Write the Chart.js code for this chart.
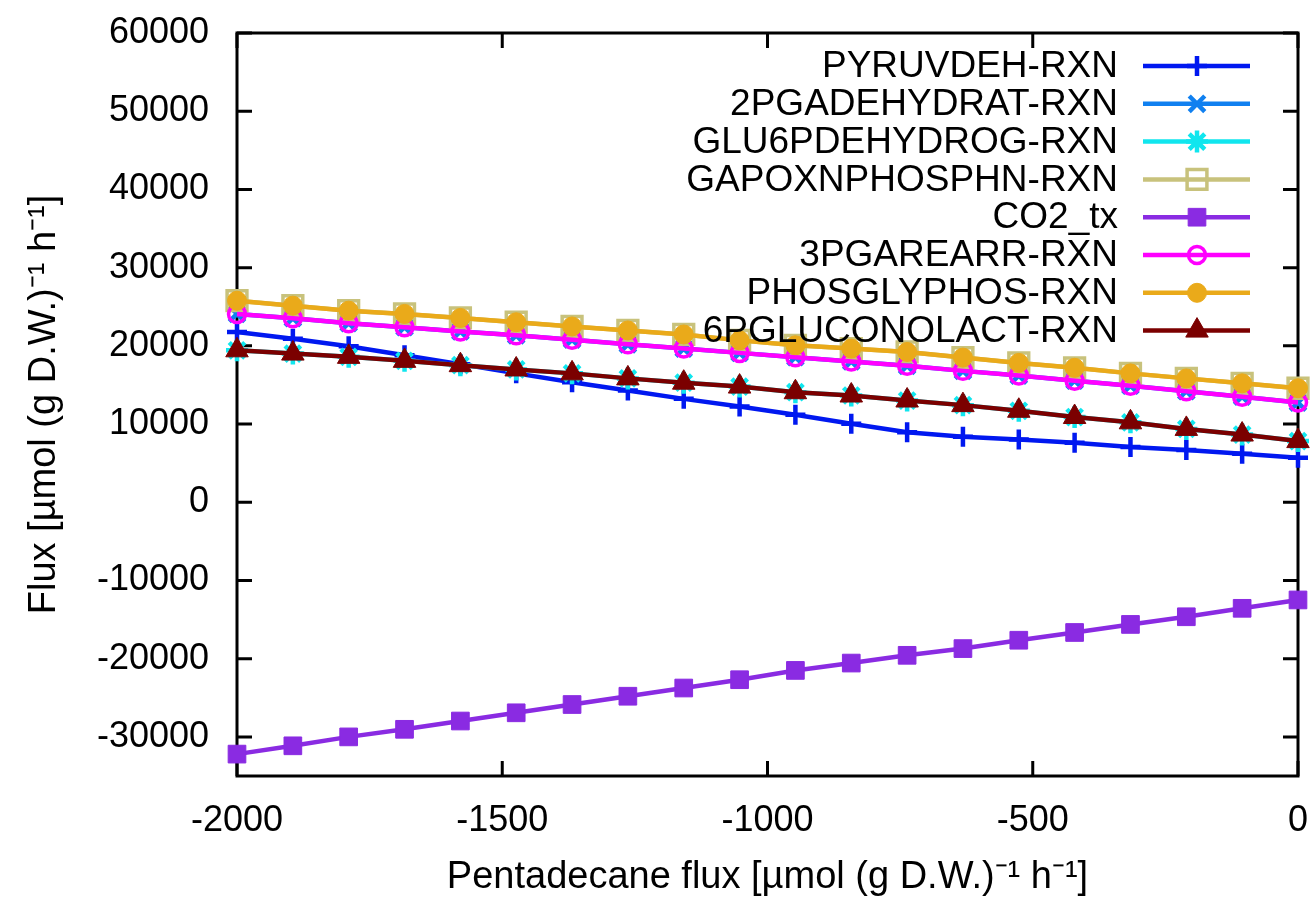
<!DOCTYPE html>
<html>
<head>
<meta charset="utf-8">
<title>Flux vs pentadecane flux</title>
<script src="https://cdn.jsdelivr.net/npm/chart.js@4.4.1/dist/chart.umd.min.js"></script>
<style>
  html, body { margin: 0; padding: 0; background: #fff; }
</style>
</head>
<body>
<canvas id="chart" width="1315" height="900"></canvas>
<script>
// x: pentadecane flux, 20 steps from -2000 to 0
const pentadecane = [-2000, -1894.7, -1789.5, -1684.2, -1578.9, -1473.7, -1368.4, -1263.2, -1157.9, -1052.6,
  -947.4, -842.1, -736.8, -631.6, -526.3, -421.1, -315.8, -210.5, -105.3, 0];

const pyruvdeh = [21760, 20910, 19940, 18800, 17660, 16480, 15340, 14280, 13220, 12250,
  11200, 10050, 8950, 8370, 8030, 7600, 7060, 6680, 6210, 5700];
const pgaDehydrat = [24080, 23530, 22900, 22390, 21840, 21340, 20790, 20190, 19650, 19100,
  18550, 18000, 17450, 16800, 16200, 15550, 14900, 14200, 13500, 12750];
const glu6pDehydrog = [19430, 19010, 18590, 18080, 17530, 16980, 16480, 15840, 15290, 14790,
  14070, 13650, 13010, 12420, 11700, 10900, 10220, 9380, 8660, 7820];
const gapoxnPhosphn = [25770, 25140, 24500, 24080, 23570, 23020, 22480, 21970, 21460, 20700,
  20070, 19650, 19220, 18500, 17820, 17190, 16480, 15840, 15210, 14580];
const co2Tx = [-32200, -31140, -30000, -29030, -27970, -26920, -25860, -24800, -23750, -22690,
  -21500, -20560, -19570, -18710, -17640, -16650, -15620, -14640, -13560, -12490];
const pgaRearr = [24080, 23530, 22900, 22390, 21840, 21340, 20790, 20190, 19650, 19100,
  18550, 18000, 17450, 16800, 16200, 15550, 14900, 14200, 13500, 12750];
const phosglyphos = [25770, 25140, 24500, 24080, 23570, 23020, 22480, 21970, 21460, 20700,
  20070, 19650, 19220, 18500, 17820, 17190, 16480, 15840, 15210, 14580];
const gluconolact = [19430, 19010, 18590, 18080, 17530, 16980, 16480, 15840, 15290, 14790,
  14070, 13650, 13010, 12420, 11700, 10900, 10220, 9380, 8660, 7820];

const seriesNames = ['PYRUVDEH-RXN', '2PGADEHYDRAT-RXN', 'GLU6PDEHYDROG-RXN', 'GAPOXNPHOSPHN-RXN',
  'CO2_tx', '3PGAREARR-RXN', 'PHOSGLYPHOS-RXN', '6PGLUCONOLACT-RXN'];
const seriesValues = [pyruvdeh, pgaDehydrat, glu6pDehydrog, gapoxnPhosphn, co2Tx, pgaRearr, phosglyphos, gluconolact];

const xTicks = [-2000, -1500, -1000, -500, 0];
const yTicks = [-30000, -20000, -10000, 0, 10000, 20000, 30000, 40000, 50000, 60000];

const FONT = '"Liberation Sans", Arial, sans-serif';

// marker look per series, gnuplot-like
const styles = [
  { color: '#0018f0', point: 'cross',    radius: 10, bw: 4.5, fill: false },
  { color: '#1080f0', point: 'crossRot', radius: 11, bw: 4.5, fill: false },
  { color: '#10e6ee', point: 'star',     radius: 11, bw: 4.5, fill: false },
  { color: '#c8c27c', point: 'rect',     radius: 14, bw: 3.5, fill: false },
  { color: '#8a2be2', point: 'rect',     radius: 12.5, bw: 1, fill: true },
  { color: '#ff00ff', point: 'circle',   radius: 8.5, bw: 3.5, fill: false },
  { color: '#eaaa1a', point: 'circle',   radius: 9.5, bw: 1,   fill: true },
  { color: '#7b0000', point: 'triangle', radius: 13, bw: 1,   fill: true }
];

const datasets = seriesNames.map((name, i) => {
  const s = styles[i];
  return {
    label: name,
    data: pentadecane.map((x, k) => ({ x: x, y: seriesValues[i][k] })),
    borderColor: s.color,
    backgroundColor: s.color,
    borderWidth: 4.5,
    pointStyle: s.point,
    pointRadius: s.radius,
    pointBorderWidth: s.bw,
    pointBorderColor: s.color,
    pointBackgroundColor: s.fill ? s.color : 'rgba(0,0,0,0)',
    tension: 0,
    clip: false,
    order: seriesNames.length - i   // later series on top, like gnuplot
  };
});

// frame and inward ticks on all four sides
const framePlugin = {
  id: 'frame',
  beforeDatasetsDraw(chart) {
    const { ctx, chartArea: a, scales } = chart;
    ctx.save();
    ctx.strokeStyle = '#000';
    ctx.lineWidth = 3;
    const t = 15;
    ctx.beginPath();
    xTicks.forEach(v => {
      const px = scales.x.getPixelForValue(v);
      ctx.moveTo(px, a.bottom); ctx.lineTo(px, a.bottom - t);
      ctx.moveTo(px, a.top); ctx.lineTo(px, a.top + t);
    });
    yTicks.forEach(v => {
      const py = scales.y.getPixelForValue(v);
      ctx.moveTo(a.left, py); ctx.lineTo(a.left + t, py);
      ctx.moveTo(a.right, py); ctx.lineTo(a.right - t, py);
    });
    ctx.stroke();
    ctx.strokeRect(a.left, a.top, a.right - a.left, a.bottom - a.top);
    ctx.restore();
  }
};

// gnuplot style key: text right aligned, then line sample with marker
const keyPlugin = {
  id: 'gnuKey',
  afterDraw(chart) {
    const ctx = chart.ctx;
    ctx.save();
    ctx.font = '37px ' + FONT;
    ctx.textAlign = 'right';
    ctx.textBaseline = 'middle';
    chart.data.datasets.forEach((ds, i) => {
      const y = 66 + i * 37.8;
      ctx.fillStyle = '#000';
      ctx.fillText(ds.label, 1118, y + 1);
      ctx.strokeStyle = ds.borderColor;
      ctx.lineWidth = 4.5;
      ctx.beginPath();
      ctx.moveTo(1143, y); ctx.lineTo(1250, y);
      ctx.stroke();
      ctx.fillStyle = ds.pointBackgroundColor;
      ctx.lineWidth = ds.pointBorderWidth;
      Chart.helpers.drawPoint(ctx, {
        pointStyle: ds.pointStyle, radius: ds.pointRadius, rotation: 0, borderWidth: ds.pointBorderWidth
      }, 1197, y);
    });
    ctx.restore();
  }
};

Chart.defaults.color = '#000';
Chart.defaults.font.family = FONT;

new Chart(document.getElementById('chart'), {
  type: 'line',
  data: { datasets: datasets },
  options: {
    responsive: false,
    animation: false,
    devicePixelRatio: 1,
    layout: { autoPadding: false, padding: { top: 33, right: 17, left: 0, bottom: 0 } },
    plugins: {
      legend: { display: false },
      tooltip: { enabled: false }
    },
    scales: {
      x: {
        type: 'linear',
        min: -2000,
        max: 0,
        grid: { display: false, drawTicks: false },
        border: { display: false },
        afterBuildTicks: (scale) => { scale.ticks = xTicks.map(v => ({ value: v })); },
        afterFit: (scale) => {
          scale.height = 124;
          scale.paddingLeft = 0;
          scale.paddingRight = 0;
        },
        ticks: {
          font: { size: 36 },
          padding: 23,
          maxRotation: 0,
          callback: (v) => String(v)
        },
        title: {
          display: true,
          text: 'Pentadecane flux [µmol (g D.W.)⁻¹ h⁻¹]',
          font: { size: 38 },
          padding: { top: 0, bottom: 0 }
        }
      },
      y: {
        type: 'linear',
        min: -35000,
        max: 60000,
        grid: { display: false, drawTicks: false },
        border: { display: false },
        afterBuildTicks: (scale) => { scale.ticks = yTicks.map(v => ({ value: v })); },
        afterFit: (scale) => {
          scale.width = 237;
          scale.paddingTop = 0;
          scale.paddingBottom = 0;
        },
        ticks: {
          font: { size: 36 },
          padding: 28,
          callback: (v) => String(v)
        },
        title: {
          display: true,
          text: 'Flux [µmol (g D.W.)⁻¹ h⁻¹]',
          font: { size: 38 },
          padding: { top: 22, bottom: 0 }
        }
      }
    }
  },
  plugins: [framePlugin, keyPlugin]
});
</script>
</body>
</html>
